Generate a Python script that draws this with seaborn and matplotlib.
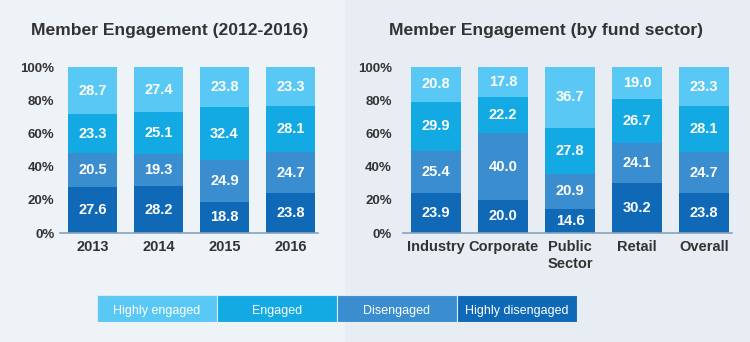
import matplotlib
matplotlib.use("Agg")
import matplotlib.pyplot as plt
from matplotlib.patches import Rectangle
import pandas as pd
import seaborn as sns

# Engagement levels, bottom of the stack first
levels = ["Highly disengaged", "Disengaged", "Engaged", "Highly engaged"]
level_colors = {
    "Highly engaged": "#5ac8f5",
    "Engaged": "#13a9e3",
    "Disengaged": "#3a8dcf",
    "Highly disengaged": "#0f69b6",
}

# Member engagement by year (%)
years = ["2013", "2014", "2015", "2016"]
year_highly_disengaged = [27.6, 28.2, 18.8, 23.8]
year_disengaged = [20.5, 19.3, 24.9, 24.7]
year_engaged = [23.3, 25.1, 32.4, 28.1]
year_highly_engaged = [28.7, 27.4, 23.8, 23.3]

# Member engagement by fund sector (%)
sectors = ["Industry", "Corporate", "Public\nSector", "Retail", "Overall"]
sector_highly_disengaged = [23.9, 20.0, 14.6, 30.2, 23.8]
sector_disengaged = [25.4, 40.0, 20.9, 24.1, 24.7]
sector_engaged = [29.9, 22.2, 27.8, 26.7, 28.1]
sector_highly_engaged = [20.8, 17.8, 36.7, 19.0, 23.3]

yticks = [0, 20, 40, 60, 80, 100]
ytick_labels = ["0%", "20%", "40%", "60%", "80%", "100%"]


def long_table(cats, hd, d, e, he):
    rows = []
    for lvl, vals in zip(levels, [hd, d, e, he]):
        for c, v in zip(cats, vals):
            rows.append({"category": c, "level": lvl, "value": v})
    return pd.DataFrame(rows)


year_df = long_table(years, year_highly_disengaged, year_disengaged,
                     year_engaged, year_highly_engaged)
sector_df = long_table(sectors, sector_highly_disengaged, sector_disengaged,
                       sector_engaged, sector_highly_engaged)

sns.set_theme(style="white")
plt.rcParams["font.family"] = ["Liberation Sans", "DejaVu Sans"]

W, H = 750, 342
fig = plt.figure(figsize=(W / 100, H / 100), dpi=100)
fig.patch.set_facecolor("#eef3f7")
# slightly darker panel behind the sector chart
fig.patches.append(Rectangle((345 / W, 0), 1 - 345 / W, 1, transform=fig.transFigure,
                             facecolor="#e7edf2", edgecolor="none", zorder=-10))


def px_axes(x0, x1, ytop, ybot):
    return fig.add_axes([x0 / W, 1 - ybot / H, (x1 - x0) / W, (ybot - ytop) / H])


def stacked(ax, df, cats, xlim, ypad):
    bottom = [0.0] * len(cats)
    for lvl in levels:
        sub = df[df["level"] == lvl].set_index("category").loc[cats].reset_index()
        sns.barplot(data=sub, x="category", y="value", order=cats, ax=ax,
                    color=level_colors[lvl], saturation=1, width=0.745,
                    bottom=bottom, linewidth=0, errorbar=None)
        ax.bar_label(ax.containers[-1], labels=[f"{v:.1f}" for v in sub["value"]],
                     label_type="center", color="white", fontsize=10.5,
                     fontweight="bold")
        bottom = [b + v for b, v in zip(bottom, sub["value"])]
    ax.set_xlim(*xlim)
    ax.set_ylim(0, 100)
    ax.set_yticks(yticks)
    ax.set_yticklabels(ytick_labels)
    ax.set_xlabel("")
    ax.set_ylabel("")
    ax.set_facecolor("none")
    for s in ["top", "right", "left"]:
        ax.spines[s].set_visible(False)
    ax.spines["bottom"].set_color("#86a3bd")
    ax.spines["bottom"].set_linewidth(1.2)
    ax.tick_params(axis="y", length=0, pad=ypad, labelsize=9.5, labelcolor="#333333")
    ax.tick_params(axis="x", length=0, pad=5, labelsize=10.5, labelcolor="#333333")
    for t in ax.get_xticklabels() + ax.get_yticklabels():
        t.set_fontweight("bold")
    for t in ax.get_xticklabels():
        t.set_linespacing(1.3)


ax1 = px_axes(60, 318, 67, 233)
stacked(ax1, year_df, years, (-0.492, 3.417), 4)

ax2 = px_axes(403, 732, 67, 233)
stacked(ax2, sector_df, sectors, (-0.493, 4.418), 8)

fig.text(170 / W, 1 - 31 / H, "Member Engagement (2012-2016)", ha="center",
         va="center", fontsize=12.6, fontweight="bold", color="#333333")
fig.text(546 / W, 1 - 31 / H, "Member Engagement (by fund sector)", ha="center",
         va="center", fontsize=12.6, fontweight="bold", color="#333333")

# Legend strip along the bottom
leg = px_axes(97, 577, 295, 322)
leg.set_xlim(0, 4)
leg.set_ylim(0, 1)
leg.axis("off")
for i, lvl in enumerate(["Highly engaged", "Engaged", "Disengaged", "Highly disengaged"]):
    leg.add_patch(Rectangle((i, 0), 1, 1, facecolor=level_colors[lvl],
                            edgecolor="#d8ecf8", linewidth=0.8))
    leg.text(i + 0.5, 0.47, lvl, ha="center", va="center_baseline", color="white",
             fontsize=9)

fig.savefig("out.png", dpi=100, facecolor=fig.get_facecolor())
